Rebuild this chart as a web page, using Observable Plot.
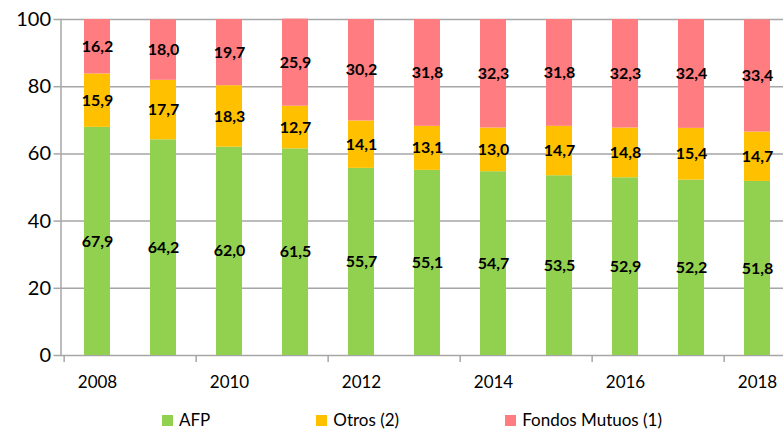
<!DOCTYPE html>
<html>
<head>
<meta charset="utf-8">
<script src="https://cdn.jsdelivr.net/npm/d3@7"></script>
<script src="https://cdn.jsdelivr.net/npm/@observablehq/plot@0.6"></script>
<style>
  html, body { margin: 0; padding: 0; background: #fff; }
  body { width: 783px; height: 429px; overflow: hidden; font-family: Lato, "Open Sans", sans-serif; }
  #legend { display: flex; gap: 106px; padding-left: 162px; padding-top: 11px; font-size: 17px; line-height: 18px; color: #000; }
  .item { display: flex; align-items: center; white-space: nowrap; }
  .sw { width: 11px; height: 11px; margin-right: 6px; display: inline-block; }
</style>
</head>
<body>
<div id="chart"></div>
<div id="legend"></div>
<script>
const years = [2008, 2009, 2010, 2011, 2012, 2013, 2014, 2015, 2016, 2017, 2018];
const afp    = [67.9, 64.2, 62.0, 61.5, 55.7, 55.1, 54.7, 53.5, 52.9, 52.2, 51.8];
const otros  = [15.9, 17.7, 18.3, 12.7, 14.1, 13.1, 13.0, 14.7, 14.8, 15.4, 14.7];
const fondos = [16.2, 18.0, 19.7, 25.9, 30.2, 31.8, 32.3, 31.8, 32.3, 32.4, 33.4];
const seriesNames = ["AFP", "Otros (2)", "Fondos Mutuos (1)"];
const seriesColors = ["#92D050", "#FFC000", "#FF7C80"];
const yTicks = [0, 20, 40, 60, 80, 100];
const xLabelYears = [2008, 2010, 2012, 2014, 2016, 2018];

const seriesValues = [afp, otros, fondos];
const data = seriesNames.flatMap((s, i) =>
  years.map((yr, j) => ({year: yr, series: s, value: seriesValues[i][j]})));

const fmt = v => v.toFixed(1).replace(".", ",");
const xRange = [60.5, 794.2];
const step = (xRange[1] - xRange[0]) / years.length;
const grid = "#a6a6a6";

const chart = Plot.plot({
  width: 783,
  height: 400,
  marginLeft: 60.5,
  marginRight: 0,
  marginTop: 19,
  marginBottom: 45,
  style: {fontFamily: "Lato, 'Open Sans', sans-serif", color: "#000", background: "#fff", overflow: "hidden"},
  x: {type: "band", domain: years, range: xRange, paddingInner: 0.6, paddingOuter: 0.3, align: 0.5},
  y: {domain: [0, 100]},
  color: {domain: seriesNames, range: seriesColors},
  marks: [
    Plot.ruleY(yTicks, {stroke: grid, strokeWidth: 1.5}),
    Plot.barY(data, {x: "year", y: "value", fill: "series"}),
    Plot.text(data, Plot.stackY({x: "year", y: "value", text: d => fmt(d.value), fontWeight: "bold", fontSize: 16, fill: "#000"})),
    Plot.frame({anchor: "left", stroke: grid, strokeWidth: 1.5}),
    Plot.axisY({ticks: yTicks, tickSize: 7, tickPadding: 3, stroke: grid, strokeWidth: 1.5, fontSize: 20, label: null}),
    Plot.axisX({ticks: xLabelYears, tickSize: 0, tickPadding: 20, fontSize: 17, tickFormat: d => String(d), label: null}),
    Plot.axisX({ticks: xLabelYears, tickSize: 7, tickFormat: () => "", dx: -step / 2, stroke: grid, strokeWidth: 1.5, label: null})
  ]
});
document.getElementById("chart").appendChild(chart);

const legend = document.getElementById("legend");
seriesNames.forEach((s, i) => {
  const item = document.createElement("div");
  item.className = "item";
  const sw = document.createElement("span");
  sw.className = "sw";
  sw.style.background = seriesColors[i];
  item.appendChild(sw);
  item.appendChild(document.createTextNode(s));
  legend.appendChild(item);
});
</script>
</body>
</html>
